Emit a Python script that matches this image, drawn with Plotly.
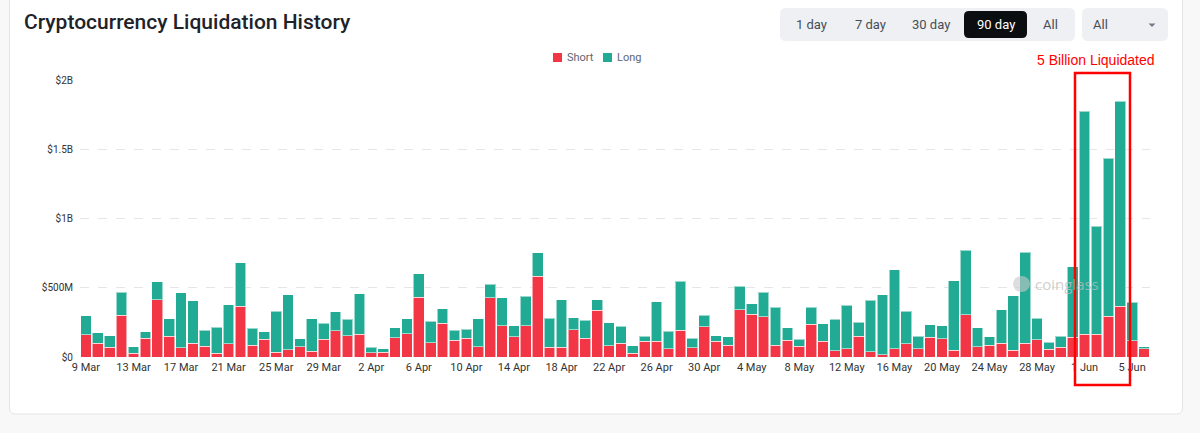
import pandas as pd
import plotly.graph_objects as go

# ---- data (USD millions) ----
dates = pd.date_range("2024-03-09", "2024-06-06", freq="D")
short_liq = [159, 100, 71, 300, 27, 137, 415, 149, 68, 98, 76, 27,
             95, 368, 85, 127, 34, 51, 73, 41, 127, 188, 154,
             166, 32, 34, 139, 168, 432, 102, 242, 122, 137, 73, 427, 224, 146, 224,
             583, 71, 71, 195, 134, 339, 83, 100, 27, 115, 115, 59, 193, 66, 217,
             112, 85, 342, 310, 290, 85, 122, 78, 237, 115, 44, 61, 149, 39, 17,
             61, 95, 59, 144, 132, 49, 305, 73, 85, 98, 49, 100, 124, 56, 71, 144,
             163, 163, 295, 368, 117, 61]
long_liq = [139, 76, 83, 168, 46, 46, 127, 129, 396, 307, 117, 188,
            283, 313, 122, 56, 298, 398, 59, 237, 115, 137, 117,
            290, 39, 27, 73, 108, 168, 157, 107, 71, 63, 205, 98, 205, 78, 213,
            171, 210, 344, 88, 130, 76, 166, 122, 54, 34, 283, 126, 354, 71, 83,
            42, 61, 168, 76, 176, 274, 90, 49, 122, 124, 229, 312, 102, 371, 434,
            569, 234, 92, 90, 95, 500, 464, 139, 61, 244, 393, 656, 157, 51, 78, 507,
            1613, 781, 1140, 1477, 278, 12]
y_tickvals = [0, 500e6, 1e9, 1.5e9, 2e9]
y_ticktext = ["$0", "$500M", "$1B", "$1.5B", "$2B"]
buttons = ["1 day", "7 day", "30 day", "90 day", "All"]
series_names = ["Short", "Long"]

RED = "#F23645"
TEAL = "#22AB94"

fig = go.Figure()
fig.add_trace(go.Bar(x=dates, y=[v * 1e6 for v in short_liq], name=series_names[0],
                     marker=dict(color=RED, line=dict(color="rgba(255,255,255,0.55)", width=1))))
fig.add_trace(go.Bar(x=dates, y=[v * 1e6 for v in long_liq], name=series_names[1],
                     marker=dict(color=TEAL, line=dict(color="rgba(255,255,255,0.55)", width=1))))

# pixel -> paper helpers
L, R, T, B = 80, 50, 80, 76
W, H = 1200, 433
PW, PH = W - L - R, H - T - B


def fx(px):
    return (px - L) / PW


def fy(py):
    return (H - B - py) / PH


def rrect(x0, y0, x1, y1, r):
    pts = [("M", x0 + r, y0), ("L", x1 - r, y0), ("Q", x1, y0, x1, y0 + r), ("L", x1, y1 - r),
           ("Q", x1, y1, x1 - r, y1), ("L", x0 + r, y1), ("Q", x0, y1, x0, y1 - r), ("L", x0, y0 + r),
           ("Q", x0, y0, x0 + r, y0)]
    s = ""
    for p in pts:
        cmd = p[0]
        coords = p[1:]
        parts = []
        for i in range(0, len(coords), 2):
            parts.append(f"{fx(coords[i]):.5f},{fy(coords[i + 1]):.5f}")
        s += cmd + " " + " ".join(parts) + " "
    return s + "Z"


shapes = [
    dict(type="path", xref="paper", yref="paper", path=rrect(9.5, -12, 1182.5, 414, 6),
         fillcolor="white", line=dict(color="#e4e4e4", width=1), layer="below"),
    dict(type="path", xref="paper", yref="paper", path=rrect(780, 8, 1075, 41, 6),
         fillcolor="#eef0f3", line=dict(width=0), layer="below"),
    dict(type="path", xref="paper", yref="paper", path=rrect(964, 11, 1027, 38, 5),
         fillcolor="#0b0e11", line=dict(width=0), layer="below"),
    dict(type="path", xref="paper", yref="paper", path=rrect(1082, 8, 1168, 41, 6),
         fillcolor="#eef0f3", line=dict(width=0), layer="below"),
    dict(type="path", xref="paper", yref="paper",
         path=f"M {fx(1148.5):.5f},{fy(23.5):.5f} L {fx(1155.5):.5f},{fy(23.5):.5f} L {fx(1152):.5f},{fy(27):.5f} Z",
         fillcolor="#707a8a", line=dict(width=0)),
    dict(type="rect", xref="paper", yref="paper", x0=fx(1075), x1=fx(1130), y0=fy(385), y1=fy(73),
         line=dict(color="#ff0000", width=2.5), fillcolor="rgba(0,0,0,0)", layer="above"),
    dict(type="circle", xref="paper", yref="paper", x0=fx(1013), x1=fx(1030), y0=fy(292), y1=fy(276),
         fillcolor="rgba(200,200,200,0.6)", line=dict(width=0), layer="above"),
    # legend swatches
    dict(type="rect", xref="paper", yref="paper", x0=fx(553), x1=fx(562), y0=fy(62), y1=fy(53),
         fillcolor=RED, line=dict(width=0)),
    dict(type="rect", xref="paper", yref="paper", x0=fx(603), x1=fx(612), y0=fy(62), y1=fy(53),
         fillcolor=TEAL, line=dict(width=0)),
]

annotations = [
    dict(text="Cryptocurrency Liquidation History", xref="paper", yref="paper", x=fx(22), y=fy(22.5),
         xanchor="left", yanchor="middle", showarrow=False,
         font=dict(family="Roboto", size=21, color="#1e2329", weight=500)),
    dict(text="5 Billion Liquidated", xref="paper", yref="paper", x=fx(1096), y=fy(60),
         xanchor="center", yanchor="middle", showarrow=False,
         font=dict(family="Liberation Sans, Arial", size=14, color="#ff0000")),
    dict(text="coinglass", xref="paper", yref="paper", x=fx(1067), y=fy(284),
         xanchor="center", yanchor="middle", showarrow=False,
         font=dict(family="Open Sans", size=15, color="rgba(190,190,190,0.75)")),
    dict(text=series_names[0], xref="paper", yref="paper", x=fx(565), y=fy(57.5),
         xanchor="left", yanchor="middle", showarrow=False,
         font=dict(family="Roboto", size=11, color="#5e6673")),
    dict(text=series_names[1], xref="paper", yref="paper", x=fx(615), y=fy(57.5),
         xanchor="left", yanchor="middle", showarrow=False,
         font=dict(family="Roboto", size=11, color="#5e6673")),
]
btn_x = [811.5, 870, 931, 996, 1050]
for label, bx in zip(buttons, btn_x):
    annotations.append(dict(text=label, xref="paper", yref="paper", x=fx(bx), y=fy(24.5),
                            xanchor="center", yanchor="middle", showarrow=False,
                            font=dict(family="Roboto", size=13,
                                      color="white" if label == "90 day" else "#474d57")))
annotations.append(dict(text="All", xref="paper", yref="paper", x=fx(1091), y=fy(24.5),
                        xanchor="left", yanchor="middle", showarrow=False,
                        font=dict(family="Roboto", size=13, color="#474d57")))

fig.update_layout(
    width=W, height=H,
    margin=dict(l=L, r=R, t=T, b=B, pad=0),
    barmode="stack", bargap=0.1,
    paper_bgcolor="#f8f8f8", plot_bgcolor="rgba(0,0,0,0)",
    font=dict(family="Roboto", color="#333"),
    showlegend=False,
    shapes=shapes, annotations=annotations,
    xaxis=dict(type="date", tickformat="%-d %b", tick0="2024-03-09", dtick=4 * 86400000,
               showgrid=False, zeroline=False, showline=False, ticks="",
               tickfont=dict(size=11, color="#333"), ticklabelstandoff=2),
    yaxis=dict(range=[0, 2e9], tickvals=y_tickvals, ticktext=y_ticktext,
               showgrid=True, gridcolor="#e6e6e6", griddash="dash", gridwidth=1,
               zeroline=False, showline=False, ticks="",
               tickfont=dict(size=10, color="#333"), ticklabelstandoff=6),
)

fig.write_html("out.html")
